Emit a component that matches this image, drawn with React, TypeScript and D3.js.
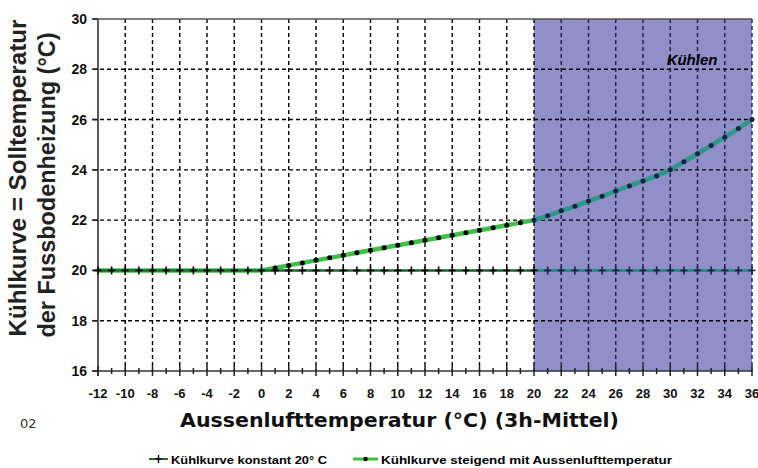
import { useEffect, useRef } from "react";
import * as d3 from "d3";

// outdoor temperature (°C), one point per degree
const outdoorTemps = [
  -12, -11, -10, -9, -8, -7, -6, -5, -4, -3, -2, -1, 0, 1, 2, 3, 4, 5, 6, 7, 8, 9,
  10, 11, 12, 13, 14, 15, 16, 17, 18, 19, 20, 21, 22, 23, 24, 25, 26, 27, 28, 29,
  30, 31, 32, 33, 34, 35, 36,
];

// Kühlkurve konstant 20° C
const constantCurve = [
  20, 20, 20, 20, 20, 20, 20, 20, 20, 20, 20, 20, 20, 20, 20, 20, 20, 20, 20, 20,
  20, 20, 20, 20, 20, 20, 20, 20, 20, 20, 20, 20, 20, 20, 20, 20, 20, 20, 20, 20,
  20, 20, 20, 20, 20, 20, 20, 20, 20,
];

// Kühlkurve steigend mit Aussenlufttemperatur
const risingCurve = [
  20, 20, 20, 20, 20, 20, 20, 20, 20, 20, 20, 20, 20, 20.1, 20.2, 20.3, 20.4, 20.5,
  20.6, 20.7, 20.8, 20.9, 21.0, 21.1, 21.2, 21.3, 21.4, 21.5, 21.6, 21.7, 21.8,
  21.9, 22.0, 22.17, 22.37, 22.55, 22.76, 22.95, 23.16, 23.36, 23.56, 23.76, 24.0,
  24.32, 24.64, 24.97, 25.3, 25.64, 26.0,
];

const xTicks = [-12, -10, -8, -6, -4, -2, 0, 2, 4, 6, 8, 10, 12, 14, 16, 18, 20, 22, 24, 26, 28, 30, 32, 34, 36];
const yTicks = [16, 18, 20, 22, 24, 26, 28, 30];
const coolingRange = [20, 36];

const legendLabels = ["Kühlkurve konstant 20° C", "Kühlkurve steigend mit Aussenlufttemperatur"];

const App = () => {
  const ref = useRef<SVGSVGElement | null>(null);

  useEffect(() => {
    document.body.style.margin = "0";
    const W = 758;
    const H = 468;
    const M = { LEFT: 98, RIGHT: 6, TOP: 19, BOTTOM: 97 };
    const WIDTH = W - M.LEFT - M.RIGHT;
    const HEIGHT = H - M.TOP - M.BOTTOM;

    const svg = d3.select(ref.current);
    svg.selectAll("*").remove();

    const g = svg.append("g").attr("transform", `translate(${M.LEFT}, ${M.TOP})`);

    const x = d3.scaleLinear().domain([-12, 36]).range([0, WIDTH]);
    const y = d3.scaleLinear().domain([16, 30]).range([HEIGHT, 0]);

    // cooling zone
    g.append("rect")
      .attr("x", x(coolingRange[0]))
      .attr("y", 0)
      .attr("width", x(coolingRange[1]) - x(coolingRange[0]))
      .attr("height", HEIGHT)
      .attr("fill", "#908fc8");

    g.append("clipPath")
      .attr("id", "cool")
      .append("rect")
      .attr("x", x(coolingRange[0]))
      .attr("y", -5)
      .attr("width", x(coolingRange[1]) - x(coolingRange[0]) + 6)
      .attr("height", HEIGHT + 10);

    // dashed grid
    g.selectAll(".vgrid")
      .data(xTicks.filter((d) => d > -12))
      .enter()
      .append("line")
      .attr("x1", (d) => x(d))
      .attr("x2", (d) => x(d))
      .attr("y1", 0)
      .attr("y2", HEIGHT)
      .attr("stroke", (d) => (d > coolingRange[0] ? "#1c1c4a" : "#000"))
      .attr("stroke-width", 1.4)
      .attr("stroke-dasharray", "4,3");

    g.selectAll(".hgrid")
      .data(yTicks.filter((d) => d > 16 && d < 30))
      .enter()
      .append("line")
      .attr("x1", -5)
      .attr("x2", WIDTH)
      .attr("y1", (d) => y(d))
      .attr("y2", (d) => y(d))
      .attr("stroke", "#000")
      .attr("stroke-width", 1.4)
      .attr("stroke-dasharray", "4,3");

    // axes
    g.append("line")
      .attr("x1", 0).attr("x2", 0).attr("y1", 0).attr("y2", HEIGHT + 5)
      .attr("stroke", "#333").attr("stroke-width", 1.6);
    g.append("line")
      .attr("x1", -5).attr("x2", WIDTH).attr("y1", HEIGHT).attr("y2", HEIGHT)
      .attr("stroke", "#333").attr("stroke-width", 1.6);
    g.append("line")
      .attr("x1", -5).attr("x2", WIDTH).attr("y1", 0).attr("y2", 0)
      .attr("stroke", "#555").attr("stroke-width", 1.4);

    g.selectAll(".ytick")
      .data(yTicks)
      .enter()
      .append("line")
      .attr("x1", -6).attr("x2", 0)
      .attr("y1", (d) => y(d)).attr("y2", (d) => y(d))
      .attr("stroke", "#222").attr("stroke-width", 1.5);

    g.selectAll(".xtick")
      .data(outdoorTemps)
      .enter()
      .append("line")
      .attr("x1", (d) => x(d)).attr("x2", (d) => x(d))
      .attr("y1", (d) => HEIGHT - (d % 2 === 0 ? 5 : 3))
      .attr("y2", (d) => HEIGHT + (d % 2 === 0 ? 5 : 3))
      .attr("stroke", "#222").attr("stroke-width", 1.5);

    g.selectAll(".ylabel")
      .data(yTicks)
      .enter()
      .append("text")
      .attr("x", -11)
      .attr("y", (d) => y(d) + 5)
      .attr("text-anchor", "end")
      .attr("font-family", "Liberation Sans, Arial, sans-serif")
      .attr("font-weight", "bold")
      .attr("font-size", "14px")
      .attr("fill", "#111")
      .text((d) => d);

    g.selectAll(".xlabel")
      .data(xTicks)
      .enter()
      .append("text")
      .attr("x", (d) => x(d))
      .attr("y", HEIGHT + 27)
      .attr("text-anchor", "middle")
      .attr("font-family", "Liberation Sans, Arial, sans-serif")
      .attr("font-weight", "bold")
      .attr("font-size", "13px")
      .attr("fill", "#111")
      .text((d) => d);

    const pts = outdoorTemps.map((t, i) => ({ t, c: constantCurve[i], r: risingCurve[i] }));
    const inCool = (d: any) => d.t >= coolingRange[0];

    const risingLine = d3.line<any>().x((d) => x(d.t)).y((d) => y(d.r));
    const constLine = d3.line<any>().x((d) => x(d.t)).y((d) => y(d.c));

    // rising curve
    g.append("path")
      .datum(pts)
      .attr("d", risingLine)
      .attr("fill", "none")
      .attr("stroke", "#3dbf48")
      .attr("stroke-width", 4.5);
    g.append("path")
      .datum(pts)
      .attr("d", risingLine)
      .attr("clip-path", "url(#cool)")
      .attr("fill", "none")
      .attr("stroke", "#2f968f")
      .attr("stroke-width", 4.5);
    g.selectAll(".dot")
      .data(pts.filter((d) => d.t > 0))
      .enter()
      .append("circle")
      .attr("cx", (d) => x(d.t))
      .attr("cy", (d) => y(d.r))
      .attr("r", 2.5)
      .attr("fill", (d) => (inCool(d) ? "#1e1e4c" : "#000"));

    // constant curve
    g.append("path")
      .datum(pts)
      .attr("d", constLine)
      .attr("fill", "none")
      .attr("stroke", "#1f6a36")
      .attr("stroke-width", 2.4);
    g.append("path")
      .datum(pts)
      .attr("d", constLine)
      .attr("clip-path", "url(#cool)")
      .attr("fill", "none")
      .attr("stroke", "#2a8a84")
      .attr("stroke-width", 3);
    const plus = g.selectAll(".plus").data(pts).enter().append("g")
      .attr("transform", (d) => `translate(${x(d.t)}, ${y(d.c)})`);
    const plusColor = (d: any) => (d.t > coolingRange[0] ? "#1e1e4c" : "#000");
    plus.append("line").attr("x1", -3.5).attr("x2", 3.5).attr("stroke", plusColor).attr("stroke-width", 1.6);
    plus.append("line").attr("y1", -4).attr("y2", 4).attr("stroke", plusColor).attr("stroke-width", 1.6);

    g.append("text")
      .attr("x", x(31.6))
      .attr("y", 46)
      .attr("text-anchor", "middle")
      .attr("font-family", "Liberation Sans, Arial, sans-serif")
      .attr("font-weight", "bold")
      .attr("font-style", "italic")
      .attr("font-size", "15px")
      .attr("fill", "#000")
      .text("Kühlen");

    // y title
    const yTitle = [
      { text: "Kühlkurve = Solltemperatur", x: 26, y: 178, len: 317 },
      { text: "der Fussbodenheizung (°C)", x: 55, y: 185, len: 305 },
    ];
    yTitle.forEach((d) => {
      svg.append("text")
        .attr("transform", `translate(${d.x}, ${d.y}) rotate(-90)`)
        .attr("text-anchor", "middle")
        .attr("font-family", "Liberation Sans, Arial, sans-serif")
        .attr("font-weight", "bold")
        .attr("font-size", "23px")
        .attr("textLength", d.len)
        .attr("lengthAdjust", "spacingAndGlyphs")
        .attr("fill", "#222")
        .text(d.text);
    });

    // x title
    svg.append("text")
      .attr("x", 180)
      .attr("y", 427)
      .attr("font-family", "DejaVu Sans, sans-serif")
      .attr("font-weight", "bold")
      .attr("font-size", "20px")
      .attr("textLength", 439)
      .attr("lengthAdjust", "spacingAndGlyphs")
      .attr("fill", "#111")
      .text("Aussenlufttemperatur (°C) (3h-Mittel)");

    svg.append("text")
      .attr("x", 20)
      .attr("y", 428)
      .attr("font-family", "DejaVu Sans, sans-serif")
      .attr("font-size", "13px")
      .attr("fill", "#333")
      .text("02");

    // legend
    const legend = [
      { x1: 149, x2: 168, tx: 171, len: 156, label: legendLabels[0], kind: "plus" },
      { x1: 353, x2: 378, tx: 381, len: 291, label: legendLabels[1], kind: "dot" },
    ];
    legend.forEach((d) => {
      const ly = 459;
      svg.append("line")
        .attr("x1", d.x1).attr("x2", d.x2).attr("y1", ly).attr("y2", ly)
        .attr("stroke", d.kind === "plus" ? "#1f6a36" : "#3dbf48")
        .attr("stroke-width", d.kind === "plus" ? 2 : 3);
      const mx = (d.x1 + d.x2) / 2;
      if (d.kind === "plus") {
        svg.append("line").attr("x1", mx - 3).attr("x2", mx + 3).attr("y1", ly).attr("y2", ly).attr("stroke", "#000").attr("stroke-width", 1.4);
        svg.append("line").attr("x1", mx).attr("x2", mx).attr("y1", ly - 4).attr("y2", ly + 4).attr("stroke", "#000").attr("stroke-width", 1.4);
      } else {
        svg.append("circle").attr("cx", mx).attr("cy", ly).attr("r", 2.2).attr("fill", "#000");
      }
      svg.append("text")
        .attr("x", d.tx)
        .attr("y", ly + 4.5)
        .attr("font-family", "Liberation Sans, Arial, sans-serif")
        .attr("font-weight", "bold")
        .attr("font-size", "11.5px")
        .attr("textLength", d.len)
        .attr("lengthAdjust", "spacingAndGlyphs")
        .attr("fill", "#000")
        .text(d.label);
    });
  }, []);

  return <svg ref={ref} width={758} height={468} style={{ display: "block", background: "#fff" }} />;
};

export default App;
